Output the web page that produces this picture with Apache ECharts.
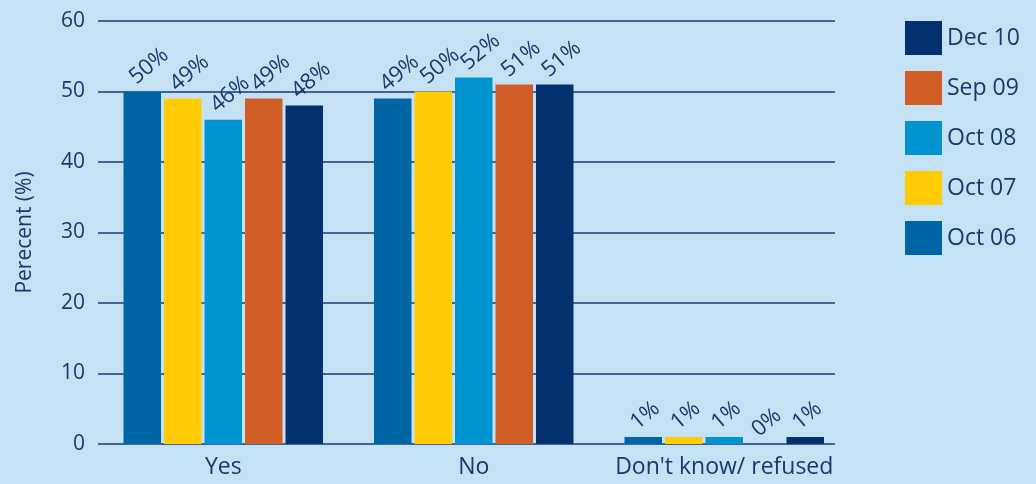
<!DOCTYPE html>
<html>
<head>
<meta charset="utf-8">
<script src="https://cdn.jsdelivr.net/npm/echarts@6/dist/echarts.min.js"></script>
<style>
  html, body { margin: 0; padding: 0; background: #c4e2f3; }
  #chart { width: 1036px; height: 484px; }
</style>
</head>
<body>
<div id="chart"></div>
<script>
// Survey answers, percent of respondents per wave
const categories = ['Yes', 'No', "Don't know/ refused"];
const oct06 = [50, 49, 1];
const oct07 = [49, 50, 1];
const oct08 = [46, 52, 1];
const sep09 = [49, 51, 0];
const dec10 = [48, 51, 1];
const seriesNames = ['Oct 06', 'Oct 07', 'Oct 08', 'Sep 09', 'Dec 10'];
const seriesColors = ['#0065a4', '#ffcb05', '#0095d1', '#d15d27', '#03306f'];
const legendOrder = ['Dec 10', 'Sep 09', 'Oct 08', 'Oct 07', 'Oct 06'];
const yTicks = { min: 0, max: 60, interval: 10 };

const textColor = '#163a70';
const fontFamily = '"Open Sans", sans-serif';
const values = [oct06, oct07, oct08, sep09, dec10];

const chart = echarts.init(document.getElementById('chart'), null, { renderer: 'canvas' });

const series = values.map((data, i) => ({
  name: seriesNames[i],
  type: 'bar',
  xAxisIndex: 1,
  yAxisIndex: 1,
  data: data,
  barWidth: 37.5,
  barGap: '8%',
  itemStyle: { color: seriesColors[i] },
  label: {
    show: true,
    // anchored just above the bar, text running up to the right
    position: [16, -3],
    rotate: 40,
    align: 'left',
    verticalAlign: 'bottom',
    formatter: '{c}%',
    color: textColor,
    fontFamily: fontFamily,
    fontSize: 22
  },
  emphasis: { disabled: true }
}));

chart.setOption({
  backgroundColor: '#c4e2f3',
  animation: false,
  textStyle: { fontFamily: fontFamily, color: textColor },
  legend: {
    data: legendOrder,
    orient: 'vertical',
    left: 900,
    top: 16,
    icon: 'rect',
    itemWidth: 37,
    itemHeight: 34,
    itemGap: 16,
    textStyle: { color: textColor, fontSize: 23, fontFamily: fontFamily }
  },
  grid: [
    // gridlines and y-axis labels
    { left: 98, right: 201, top: 21, bottom: 40 },
    // bars and category labels
    { left: 98, right: 186.5, top: 21, bottom: 40 }
  ],
  xAxis: [
    {
      gridIndex: 0,
      type: 'category',
      data: categories,
      axisLine: { show: false },
      axisTick: { show: false },
      axisLabel: { show: false }
    },
    {
      gridIndex: 1,
      type: 'category',
      data: categories,
      axisLine: { show: false },
      axisTick: { show: false },
      axisLabel: { interval: 0, color: textColor, fontSize: 23, margin: 12, fontFamily: fontFamily }
    }
  ],
  yAxis: [
    {
      gridIndex: 0,
      type: 'value',
      min: yTicks.min,
      max: yTicks.max,
      interval: yTicks.interval,
      name: 'Perecent (%)',
      nameLocation: 'middle',
      nameRotate: 90,
      nameGap: 62,
      nameTextStyle: { color: textColor, fontSize: 21, fontFamily: fontFamily },
      axisLine: { show: false },
      axisTick: { show: false },
      axisLabel: { color: textColor, fontSize: 21, margin: 13, fontFamily: fontFamily },
      splitLine: { show: true, lineStyle: { color: '#173d74', width: 1.5 } }
    },
    {
      gridIndex: 1,
      type: 'value',
      min: yTicks.min,
      max: yTicks.max,
      interval: yTicks.interval,
      show: false,
      splitLine: { show: false }
    }
  ],
  series: series
});
</script>
</body>
</html>
